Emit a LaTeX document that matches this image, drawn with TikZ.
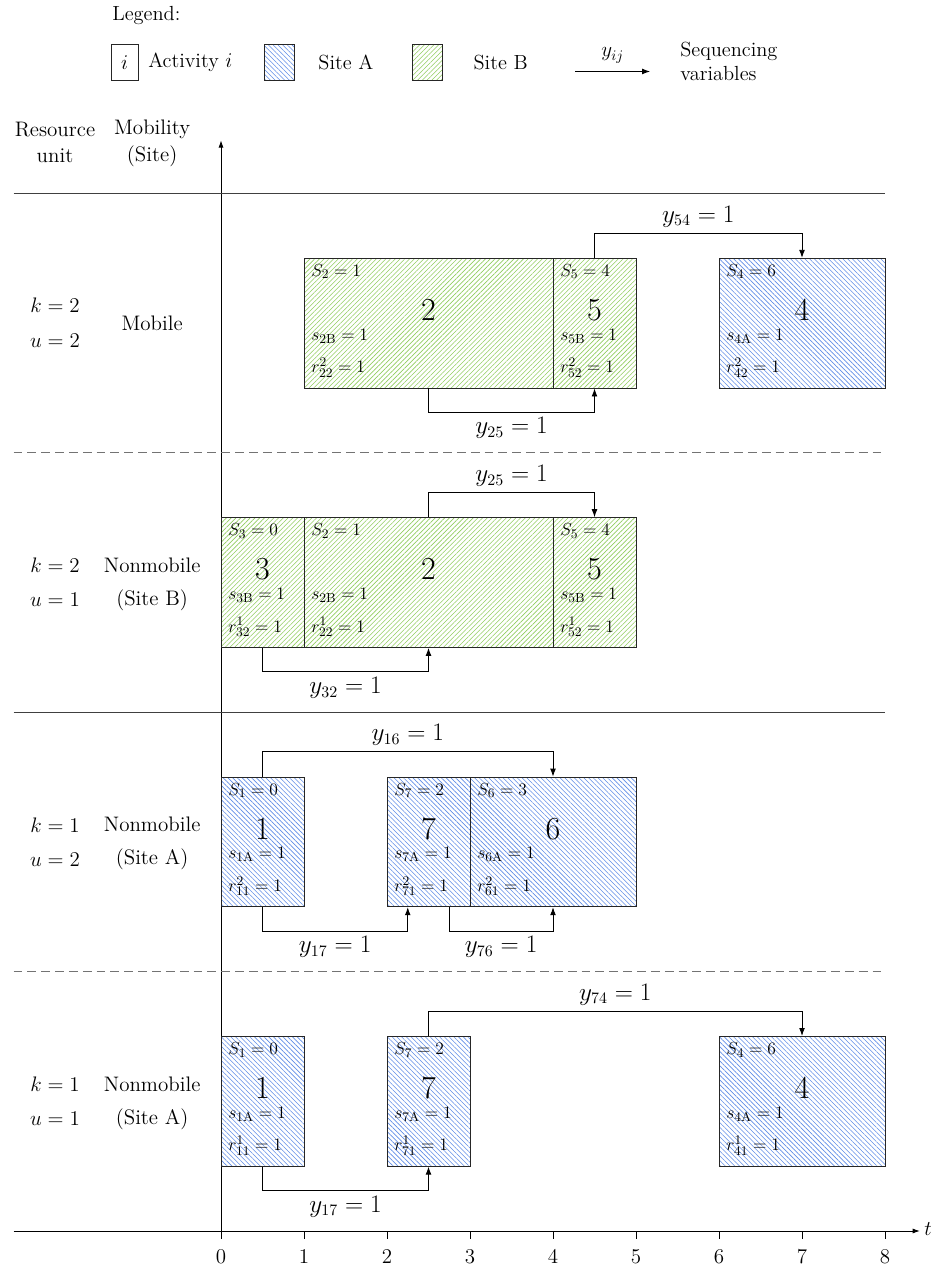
\documentclass[tikz,border=0pt]{standalone}
\usetikzlibrary{patterns,patterns.meta,arrows.meta,calc}
\definecolor{hatchA}{RGB}{95,140,230}
\definecolor{hatchB}{RGB}{145,205,95}
\newcommand\acttexts[5]{%
  \node[btxt] (#1S) at ($(#1.north west)+(0.09,-0.165)$) {#2};
  \node[bnum] (#1N) at ($(#1.north)+(0,-0.627)$) {#3};
  \node[btxt] (#1s) at ($(#1.north west)+(0.09,-0.94)$) {#4};
  \node[btxt] (#1r) at ($(#1.north west)+(0.09,-1.32)$) {#5};
}
\begin{document}
\begin{tikzpicture}[x=2cm,y=2cm,
  boxA/.style={draw=black!85, line width=0.6pt, pattern={Lines[angle=-45,distance=2.3pt,line width=0.4pt]}, pattern color=hatchA, minimum height=3.125cm, inner sep=0pt},
  boxB/.style={draw=black!85, line width=0.6pt, pattern={Lines[angle=45,distance=2.3pt,line width=0.4pt]}, pattern color=hatchB, minimum height=3.125cm, inner sep=0pt},
  btxt/.style={anchor=west, inner sep=0pt, font=\fontsize{13}{15}\selectfont},
  bnum/.style={inner sep=0pt, font=\fontsize{22}{26}\selectfont},
  conn/.style={line width=0.6pt, -{Latex[length=5.5pt,width=4pt]}},
  clbl/.style={font=\fontsize{16}{19}\selectfont, inner sep=0pt},
  rowlbl/.style={font=\fontsize{14.4}{17}\selectfont, inner sep=0pt},
  leg/.style={font=\fontsize{14}{16.5}\selectfont, inner sep=0pt},
  sepline/.style={draw=black!75, line width=0.6pt},
  dashline/.style={draw=black!55, line width=0.6pt, dash pattern=on 6pt off 3.5pt},
  axis/.style={line width=0.6pt, -{Latex[length=5pt,width=3.5pt]}},
  tick/.style={font=\fontsize{14}{16}\selectfont, inner sep=0pt}]
\useasboundingbox (-2.6627,-0.4819) rectangle (8.6386,14.8313);

% ---------- legend ----------
\node[leg, anchor=west] (legtitle) at (-1.313,14.65) {Legend:};
\node[draw=black!85, line width=0.6pt, minimum width=0.66cm, minimum height=0.88cm, inner sep=0pt, font=\fontsize{14}{16.5}\selectfont] (legact) at (-1.16,14.08) {$i$};
\node[leg, anchor=west] (legacttxt) at (-0.88,14.08) {Activity $i$};
\node[boxA, minimum width=0.72cm, minimum height=0.88cm] (legA) at (0.70,14.08) {};
\node[leg, anchor=west] (legAtxt) at (1.17,14.08) {Site A};
\node[boxB, minimum width=0.72cm, minimum height=0.88cm] (legB) at (2.49,14.08) {};
\node[leg, anchor=west] (legBtxt) at (3.04,14.08) {Site B};
\coordinate (legarrS) at (4.265,13.97);
\coordinate (legarrE) at (5.17,13.97);
\draw[conn] (legarrS) -- (legarrE);
\node[leg, anchor=south] (legy) at ($(legarrS)!0.5!(legarrE)+(0,0.1)$) {$y_{ij}$};
\node[leg, anchor=west, align=left] (legseq) at (5.53,14.09) {Sequencing\\variables};

% ---------- axes ----------
\coordinate (xs) at (-2.5,0);
\coordinate (xe) at (8.42,0);
\coordinate (origin) at (0,0);
\coordinate (ye) at (0,13.14);
\draw[axis] (xs) -- (xe);
\draw[axis] (origin) -- (ye);
\node[tick, anchor=west] (tlabel) at ($(xe)+(0.05,0.02)$) {$t$};
\foreach \i in {0,...,8} {
  \draw[line width=0.6pt] (\i,0) -- (\i,-0.1);
  \node[tick] (tick\i) at (\i,-0.31) {$\i$};
}

% ---------- separators ----------
\draw[sepline] (-2.5,12.5) -- (8,12.5);
\draw[dashline] (-2.5,9.375) -- (8,9.375);
\draw[sepline] (-2.5,6.25) -- (8,6.25);
\draw[dashline] (-2.5,3.125) -- (8,3.125);

% ---------- header ----------
\node[rowlbl] (hres) at (-2.0,13.27) {Resource};
\node[rowlbl] (hunit) at (-2.0,12.95) {unit};
\node[rowlbl] (hmob) at (-0.83,13.27) {Mobility};
\node[rowlbl] (hsite) at (-0.83,12.95) {(Site)};

% ---------- row labels ----------
\node[rowlbl] (k1) at (-2.0,11.15) {$k=2$};
\node[rowlbl] (u1) at (-2.0,10.73) {$u=2$};
\node[rowlbl] (m1) at (-0.83,10.94) {Mobile};

\node[rowlbl] (k2) at (-2.0,8.02) {$k=2$};
\node[rowlbl] (u2) at (-2.0,7.60) {$u=1$};
\node[rowlbl] (m2a) at (-0.83,8.02) {Nonmobile};
\node[rowlbl] (m2b) at (-0.83,7.60) {(Site B)};

\node[rowlbl] (k3) at (-2.0,4.895) {$k=1$};
\node[rowlbl] (u3) at (-2.0,4.475) {$u=2$};
\node[rowlbl] (m3a) at (-0.83,4.895) {Nonmobile};
\node[rowlbl] (m3b) at (-0.83,4.475) {(Site A)};

\node[rowlbl] (k4) at (-2.0,1.77) {$k=1$};
\node[rowlbl] (u4) at (-2.0,1.35) {$u=1$};
\node[rowlbl] (m4a) at (-0.83,1.77) {Nonmobile};
\node[rowlbl] (m4b) at (-0.83,1.35) {(Site A)};

% ---------- row 1 (k=2,u=2) ----------
\node[boxB, minimum width=6cm] (r1b2) at (2.5,10.9375) {};
\node[boxB, minimum width=2cm] (r1b5) at (4.5,10.9375) {};
\node[boxA, minimum width=4cm] (r1b4) at (7,10.9375) {};
\acttexts{r1b2}{$S_2=1$}{2}{$s_{2\mathrm{B}}=1$}{$r^2_{22}=1$}
\acttexts{r1b5}{$S_5=4$}{5}{$s_{5\mathrm{B}}=1$}{$r^2_{52}=1$}
\acttexts{r1b4}{$S_4=6$}{4}{$s_{4\mathrm{A}}=1$}{$r^2_{42}=1$}
\draw[conn] (r1b2.south) -- ++(0,-0.29) -| (r1b5.south);
\node[clbl] (l1a) at ($(r1b2.south)!0.5!(r1b5.south)+(0,-0.48)$) {$y_{25}=1$};
\draw[conn] (r1b5.north) -- ++(0,0.3) -| (r1b4.north);
\node[clbl] (l1b) at ($(r1b5.north)!0.5!(r1b4.north)+(0,0.5)$) {$y_{54}=1$};

% ---------- row 2 (k=2,u=1) ----------
\node[boxB, minimum width=2cm] (r2b3) at (0.5,7.8125) {};
\node[boxB, minimum width=6cm] (r2b2) at (2.5,7.8125) {};
\node[boxB, minimum width=2cm] (r2b5) at (4.5,7.8125) {};
\acttexts{r2b3}{$S_3=0$}{3}{$s_{3\mathrm{B}}=1$}{$r^1_{32}=1$}
\acttexts{r2b2}{$S_2=1$}{2}{$s_{2\mathrm{B}}=1$}{$r^1_{22}=1$}
\acttexts{r2b5}{$S_5=4$}{5}{$s_{5\mathrm{B}}=1$}{$r^1_{52}=1$}
\draw[conn] (r2b2.north) -- ++(0,0.3) -| (r2b5.north);
\node[clbl] (l2a) at ($(r2b2.north)!0.5!(r2b5.north)+(0,0.5)$) {$y_{25}=1$};
\draw[conn] (r2b3.south) -- ++(0,-0.29) -| (r2b2.south);
\node[clbl] (l2b) at ($(r2b3.south)!0.5!(r2b2.south)+(0,-0.48)$) {$y_{32}=1$};

% ---------- row 3 (k=1,u=2) ----------
\node[boxA, minimum width=2cm] (r3b1) at (0.5,4.6875) {};
\node[boxA, minimum width=2cm] (r3b7) at (2.5,4.6875) {};
\node[boxA, minimum width=4cm] (r3b6) at (4,4.6875) {};
\acttexts{r3b1}{$S_1=0$}{1}{$s_{1\mathrm{A}}=1$}{$r^2_{11}=1$}
\acttexts{r3b7}{$S_7=2$}{7}{$s_{7\mathrm{A}}=1$}{$r^2_{71}=1$}
\acttexts{r3b6}{$S_6=3$}{6}{$s_{6\mathrm{A}}=1$}{$r^2_{61}=1$}
\coordinate (r3b7L) at ($(r3b7.south)+(-0.25,0)$);
\coordinate (r3b7R) at ($(r3b7.south)+(0.25,0)$);
\draw[conn] (r3b1.north) -- ++(0,0.3) -| (r3b6.north);
\node[clbl] (l3a) at ($(r3b1.north)!0.5!(r3b6.north)+(0,0.5)$) {$y_{16}=1$};
\draw[conn] (r3b1.south) -- ++(0,-0.29) -| (r3b7L);
\node[clbl] (l3b) at ($(r3b1.south)!0.5!(r3b7L)+(0,-0.48)$) {$y_{17}=1$};
\draw[conn] (r3b7R) -- ++(0,-0.29) -| (r3b6.south);
\node[clbl] (l3c) at ($(r3b7R)!0.5!(r3b6.south)+(0,-0.48)$) {$y_{76}=1$};

% ---------- row 4 (k=1,u=1) ----------
\node[boxA, minimum width=2cm] (r4b1) at (0.5,1.5625) {};
\node[boxA, minimum width=2cm] (r4b7) at (2.5,1.5625) {};
\node[boxA, minimum width=4cm] (r4b4) at (7,1.5625) {};
\acttexts{r4b1}{$S_1=0$}{1}{$s_{1\mathrm{A}}=1$}{$r^1_{11}=1$}
\acttexts{r4b7}{$S_7=2$}{7}{$s_{7\mathrm{A}}=1$}{$r^1_{71}=1$}
\acttexts{r4b4}{$S_4=6$}{4}{$s_{4\mathrm{A}}=1$}{$r^1_{41}=1$}
\draw[conn] (r4b7.north) -- ++(0,0.3) -| (r4b4.north);
\node[clbl] (l4a) at ($(r4b7.north)!0.5!(r4b4.north)+(0,0.5)$) {$y_{74}=1$};
\draw[conn] (r4b1.south) -- ++(0,-0.29) -| (r4b7.south);
\node[clbl] (l4b) at ($(r4b1.south)!0.5!(r4b7.south)+(0,-0.48)$) {$y_{17}=1$};
\end{tikzpicture}
\end{document}
